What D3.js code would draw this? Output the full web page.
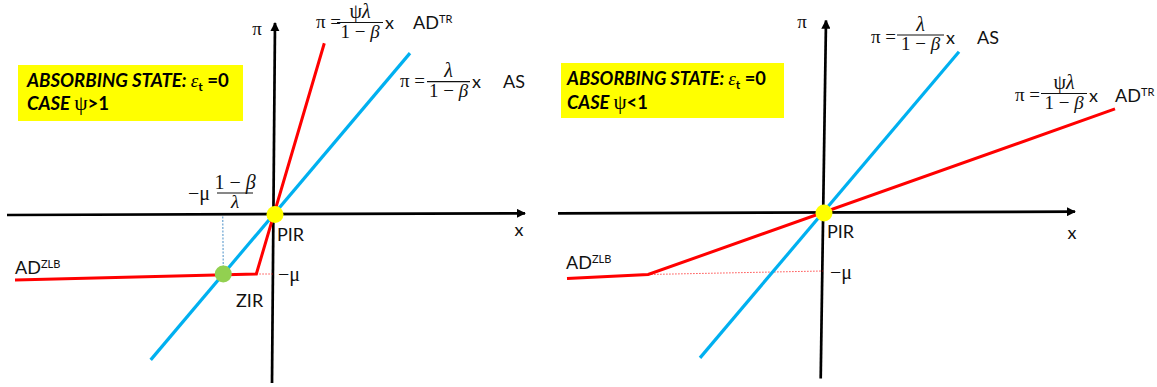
<!DOCTYPE html>
<html><head><meta charset="utf-8">
<script src="https://cdn.jsdelivr.net/npm/d3@7"></script>
<style>body{margin:0;background:#fff} svg{display:block}</style>
</head><body>
<svg id="c" width="1157" height="387"></svg>
<script>
// ---------- DATA (schematic units) ----------
const panelNames   = ["psi>1", "psi<1"];
const asSlope      = [1.183, 1.182];            // λ/(1-β)
const psiValue     = [2.87, 0.30];              // ψ
const muValue      = [6.0, 6.2];                // μ
const asXRange     = [[-12.33, 13.6], [-12.3, 13.6]];
const adTopX       = [5.03, 29.2];
const zlbStart     = [[-25.9, -6.6], [-25.6, -6.6]];
const muMarkEndY   = [-6.0, -5.85];
const xAxisEnds    = [[[-26.7, -0.1], [25.1, 0.07]], [[-26.5, -0.08], [25.2, 0.08]]];
const piAxisEnds   = [[[-0.2, -16.9], [0.1, 19.1]], [[-0.23, -16.6], [0.3, 19.2]]];
const caseLabels   = ["CASE ψ>1", "CASE ψ<1"];
const boxTitle     = "ABSORBING STATE: ";

// ---------- LAYOUT ----------
const svg = d3.select("#c");
const origins = [[274, 214], [823, 212.5]];
const unit = 10;
const RED = "#ff0000", BLUE = "#00b0f0", SANS = "Lato, 'Open Sans', sans-serif", SERIF = "'Liberation Serif', 'DejaVu Serif', serif";
const LBL = 18;

const defs = svg.append("defs");
defs.append("marker").attr("id", "arr").attr("viewBox", "0 0 10 10")
  .attr("refX", 9).attr("refY", 5).attr("markerWidth", 3.4).attr("markerHeight", 3.4)
  .attr("markerUnits", "strokeWidth").attr("orient", "auto")
  .append("path").attr("d", "M0,0 L10,5 L0,10 z").attr("fill", "#000");

function sansText(g, x, y, txt, size, anchor) {
  return g.append("text").attr("x", x).attr("y", y).attr("font-family", SANS)
    .attr("font-size", size || LBL).attr("fill", "#111").attr("text-anchor", anchor || "start").text(txt);
}

function supLabel(g, x, y, main, sup) {
  const t = g.append("text").attr("x", x).attr("y", y).attr("font-family", SANS).attr("font-size", LBL).attr("fill", "#111");
  t.append("tspan").text(main);
  if (sup) t.append("tspan").attr("font-size", 11).attr("dy", -6).text(sup);
}

function fraction(g, x1, x2, barY, numParts, denParts) {
  const cx = (x1 + x2) / 2;
  g.append("line").attr("x1", x1).attr("x2", x2).attr("y1", barY).attr("y2", barY).attr("stroke", "#111").attr("stroke-width", 1.2);
  const n = g.append("text").attr("x", cx).attr("y", barY - 4.5).attr("text-anchor", "middle").attr("font-family", SERIF).attr("font-size", 20).attr("fill", "#111");
  numParts.forEach(p => n.append("tspan").attr("font-style", p[1] ? "italic" : "normal").text(p[0]));
  const d = g.append("text").attr("x", cx).attr("y", barY + 15).attr("text-anchor", "middle").attr("font-family", SERIF).attr("font-size", 19).attr("fill", "#111");
  denParts.forEach(p => d.append("tspan").attr("font-style", p[1] ? "italic" : "normal").text(p[0]));
}

function equation(g, e) {
  g.append("text").attr("x", e.piX).attr("y", e.base).attr("font-family", SERIF).attr("font-size", 19).attr("fill", "#111").text("π =");
  fraction(g, e.x1, e.x2, e.barY, e.num, [["1 − ", false], ["β", true]]);
  sansText(g, e.x2 + 2, e.base + 1, "x", LBL);
  supLabel(g, e.tagX, e.base + 1, e.tag, e.sup);
}

const psiLam = [["ψ", false], ["λ", true]], lam = [["λ", true]];
const equations = [
  [ {piX: 316, base: 27.5, barY: 22.5, x1: 337, x2: 383, num: psiLam, tagX: 413, tag: "AD", sup: "TR"},
    {piX: 400, base: 87, barY: 81.7, x1: 427, x2: 470, num: lam, tagX: 503, tag: "AS"} ],
  [ {piX: 871, base: 43, barY: 35, x1: 897, x2: 944, num: lam, tagX: 977, tag: "AS"},
    {piX: 1015, base: 101, barY: 93.5, x1: 1041, x2: 1087, num: psiLam, tagX: 1115, tag: "AD", sup: "TR"} ]
];
const boxes = [ {x: 18, y: 65, w: 225, h: 56, tx: 27, b1: 87, b2: 110, target: 203},
                {x: 561, y: 63, w: 223, h: 55, tx: 567, b1: 85, b2: 109, target: 200} ];
const textPos = [
  {pir: [277, 241], x: [519, 236], pi: [257, 35], mu: [278, 281], zlb: [15, 274], zir: [236, 307]},
  {pir: [827, 238], x: [1072, 239], pi: [802, 28], mu: [830, 279], zlb: [566, 269]}
];

panelNames.forEach((name, i) => {
  const [ox, oy] = origins[i];
  const xs = d3.scaleLinear().domain([0, 1]).range([ox, ox + unit]);
  const ys = d3.scaleLinear().domain([0, 1]).range([oy, oy - unit]);
  const line = d3.line().x(d => xs(d[0])).y(d => ys(d[1]));
  const g = svg.append("g").attr("class", name);

  // yellow box
  const b = boxes[i];
  g.append("rect").attr("x", b.x).attr("y", b.y).attr("width", b.w).attr("height", b.h).attr("fill", "#ffff00");
  const t1 = g.append("text").attr("x", b.tx).attr("y", b.b1).attr("font-family", SANS).attr("font-weight", "bold").attr("font-style", "italic").attr("font-size", 17).attr("fill", "#000");
  t1.append("tspan").text(boxTitle);
  t1.append("tspan").attr("font-family", SERIF).attr("font-weight", "normal").attr("font-size", 19).text("ε");
  t1.append("tspan").attr("font-style", "normal").attr("font-size", 12).attr("dy", 4).text("t");
  t1.append("tspan").attr("font-style", "normal").attr("dy", -4).text(" =0");
  const w1 = t1.node().getComputedTextLength();
  if (w1 > 0) t1.attr("font-size", 17 * b.target / w1);
  const fs = 17 * b.target / (w1 || b.target);
  const t2 = g.append("text").attr("x", b.tx).attr("y", b.b2).attr("font-family", SANS).attr("font-weight", "bold").attr("font-style", "italic").attr("font-size", fs).attr("fill", "#000");
  const cl = caseLabels[i].split("ψ");
  t2.append("tspan").text(cl[0]);
  t2.append("tspan").attr("font-family", SERIF).attr("font-style", "normal").attr("font-weight", "normal").attr("font-size", fs * 1.15).text("ψ");
  t2.append("tspan").attr("font-style", "normal").text(cl[1]);

  // axes
  g.append("path").attr("d", line(xAxisEnds[i])).attr("stroke", "#000").attr("stroke-width", 2.7).attr("fill", "none").attr("marker-end", "url(#arr)");
  g.append("path").attr("d", line(piAxisEnds[i])).attr("stroke", "#000").attr("stroke-width", 2.7).attr("fill", "none").attr("marker-end", "url(#arr)");

  const s = asSlope[i], sAD = psiValue[i] * asSlope[i], mu = muValue[i];
  const kink = [-mu / sAD, -mu];
  const zir = [-mu / s, -mu];

  // dotted -μ marker
  g.append("path").attr("d", line([kink, [0, muMarkEndY[i]]])).attr("stroke", RED).attr("stroke-width", 1).attr("stroke-dasharray", "1.5,1.5").attr("opacity", 0.7).attr("fill", "none");
  // dashed ZIR drop line
  if (i === 0) {
    g.append("path").attr("d", line([[zir[0] - 0.05, -0.25], zir])).attr("stroke", "#4a90c8").attr("stroke-width", 1).attr("stroke-dasharray", "2,1.5").attr("fill", "none");
  }
  // AS line
  g.append("path").attr("d", line(asXRange[i].map(x => [x, s * x]))).attr("stroke", BLUE).attr("stroke-width", 3.2).attr("fill", "none");
  // AD line
  g.append("path").attr("d", line([zlbStart[i], kink, [adTopX[i], sAD * adTopX[i]]])).attr("stroke", RED).attr("stroke-width", 3).attr("fill", "none").attr("stroke-linejoin", "miter");

  // points
  g.append("circle").attr("cx", xs(0) + 1).attr("cy", ys(0) + 0.5).attr("r", 8.5).attr("fill", "#ffff00");
  if (i === 0) g.append("circle").attr("cx", xs(zir[0])).attr("cy", ys(zir[1])).attr("r", 8.5).attr("fill", "#92d050");

  // texts
  const tp = textPos[i];
  sansText(g, tp.pir[0], tp.pir[1], "PIR");
  sansText(g, tp.x[0], tp.x[1], "x", LBL, "middle");
  g.append("text").attr("x", tp.pi[0]).attr("y", tp.pi[1]).attr("text-anchor", "middle").attr("font-family", SERIF).attr("font-size", 19).attr("fill", "#111").text("π");
  g.append("text").attr("x", tp.mu[0]).attr("y", tp.mu[1]).attr("font-family", SERIF).attr("font-size", 20).attr("fill", "#111").text("−μ");
  supLabel(g, tp.zlb[0], tp.zlb[1], "AD", "ZLB");
  if (tp.zir) sansText(g, tp.zir[0], tp.zir[1], "ZIR");
  if (i === 0) {
    g.append("text").attr("x", 188).attr("y", 200).attr("font-family", SERIF).attr("font-size", 20).attr("fill", "#111").text("−μ");
    fraction(g, 217, 253, 193, [["1 − ", false], ["β", true]], lam);
  }
  equations[i].forEach(e => equation(g, e));
});
</script>
</body></html>
